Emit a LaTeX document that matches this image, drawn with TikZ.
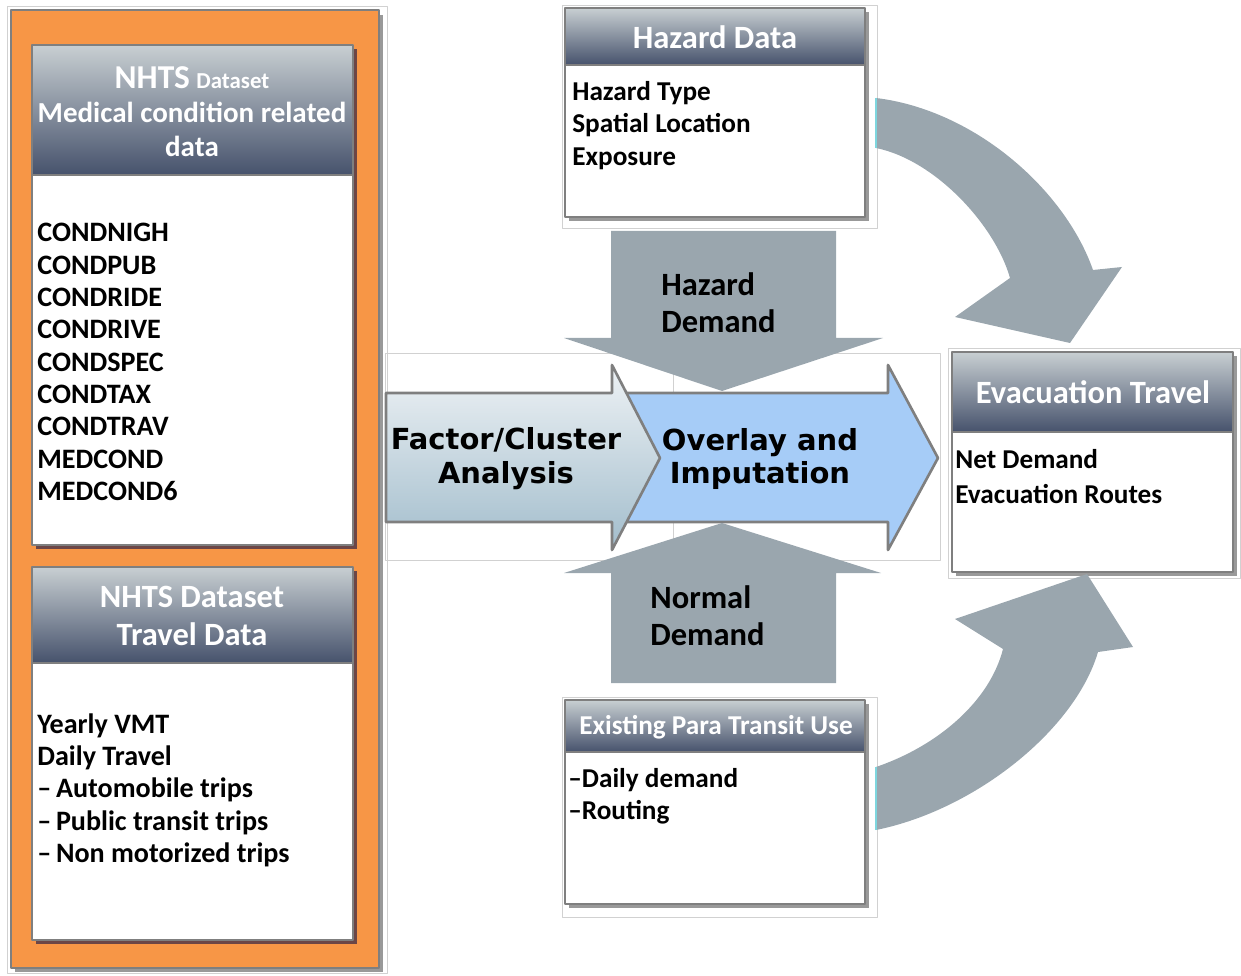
\documentclass[tikz,border=0pt]{standalone}
\usepackage{fontspec}
\setmainfont{Carlito}
\newfontfamily\blockfont{DejaVu Sans}
\definecolor{panelorange}{HTML}{F79646}
\definecolor{framegray}{HTML}{7F7F7F}
\definecolor{hdtop}{HTML}{C8CFD2}
\definecolor{hdbot}{HTML}{46526C}
\definecolor{arrowgray}{HTML}{9AA6AE}
\definecolor{overlayblue}{HTML}{A6CCF7}
\definecolor{factortop}{HTML}{EEF2F5}
\definecolor{factorbot}{HTML}{A2BDCC}
\definecolor{linkcyan}{HTML}{7ED6DE}
\definecolor{darkshade}{HTML}{4A3346}
\begin{document}
\begin{tikzpicture}[x=0.02cm,y=-0.02cm,line join=round,
	frame/.style={draw=framegray,line width=1.5pt},
	header/.style={frame,top color=hdtop,bottom color=hdbot},
	body/.style={frame,fill=white},
	shade/.style={fill=black,opacity=0.4},
	ghost/.style={draw=black!18,line width=0.5pt},
	title/.style={text=white,align=center,inner sep=0pt},
	items/.style={align=left,anchor=north west,inner sep=0pt},
	block/.style={fill=arrowgray},
	tag/.style={align=left,anchor=west,inner sep=0pt,font=\bfseries\fontsize{18.5}{21}\selectfont},
	flow/.style={align=center,inner sep=0pt,font=\blockfont\bfseries\fontsize{16.5}{19.3}\selectfont}]
	\useasboundingbox (0,0) rectangle (1241,976);
	%========orange panel with the two NHTS boxes
	\draw[ghost] (7,6) rectangle (387,973);
	\fill[shade] (15,15) rectangle (383,972);
	\draw[frame,fill=panelorange] (11,10) rectangle (379,968);
	\fill[darkshade,opacity=0.8] (36,49) rectangle (357,549);
	\draw[body] (32,175) rectangle (353,545);
	\draw[header] (32,45) rectangle (353,175);
	\node[title,font=\bfseries\fontsize{16.5}{19.3}\selectfont] (medtitle) at (192,112)
	{{\fontsize{19}{19.3}\selectfont NHTS} {\fontsize{13}{19.3}\selectfont Dataset}\\Medical condition related\\data};
	\node[items,font=\bfseries\fontsize{16}{18.4}\selectfont] (meditems) at (37,223)
	{CONDNIGH\\CONDPUB\\CONDRIDE\\CONDRIVE\\CONDSPEC\\CONDTAX\\CONDTRAV\\MEDCOND\\MEDCOND6};
	\fill[darkshade,opacity=0.8] (36,571) rectangle (357,944);
	\draw[body] (32,663) rectangle (353,940);
	\draw[header] (32,567) rectangle (353,663);
	\node[title,font=\bfseries\fontsize{18.5}{21.5}\selectfont] (tvltitle) at (192,616)
	{NHTS Dataset\\Travel Data};
	\node[items,font=\bfseries\fontsize{16}{18.4}\selectfont] (tvlitems) at (37,713)
	{Yearly VMT\\Daily Travel\\\textendash\,Automobile trips\\\textendash\,Public transit trips\\\textendash\,Non motorized trips};
	%========middle arrows
	\draw[ghost] (385,353) rectangle (673,560) (673,353) rectangle (940,560);
	\path[fill=overlayblue] (614,393) -- (888,393) -- (888,365) -- (938,458) -- (888,550) -- (888,522) -- (614,522) -- cycle;
	\draw[frame] (614,393) -- (888,393) -- (888,365) -- (938,458) -- (888,550) -- (888,522) -- (614,522);
	\draw[frame,top color=factortop,bottom color=factorbot]
	(386,393) -- (612,393) -- (612,365) -- (660,458) -- (612,550) -- (612,522) -- (386,522) -- cycle;
	\node[flow] (factor) at (506,459) {Factor/Cluster\\Analysis};
	\node[flow] (overlay) at (760,459) {Overlay and\\Imputation};
	\fill[block] (611,231) -- (836,231) -- (836,338) -- (883,338) -- (722,391) -- (564,338) -- (611,338) -- cycle;
	\fill[block] (611,683) -- (836,683) -- (836,573) -- (881,573) -- (722,523) -- (564,573) -- (611,573) -- cycle;
	\node[tag] (hzddem) at (661,303) {Hazard\\Demand};
	\node[tag] (nrmdem) at (650,616) {Normal\\Demand};
	%========hazard, para transit and evacuation boxes
	\draw[ghost] (562,5) rectangle (877,228);
	\fill[shade] (569,12) rectangle (869,221);
	\draw[body] (565,65) rectangle (865,217);
	\draw[header] (565,8) rectangle (865,65);
	\node[title,font=\bfseries\fontsize{18.5}{21}\selectfont] (hzdtitle) at (715,37) {Hazard Data};
	\node[items,font=\bfseries\fontsize{15.5}{18.4}\selectfont] (hzditems) at (572,81)
	{Hazard Type\\Spatial Location\\Exposure};
	\draw[ghost] (562,697) rectangle (877,917);
	\fill[shade] (569,704) rectangle (869,908);
	\draw[body] (565,752) rectangle (865,904);
	\draw[header] (565,700) rectangle (865,752);
	\node[title,font=\bfseries\fontsize{15.5}{18}\selectfont] (ptrtitle) at (716,727) {Existing Para Transit Use};
	\node[items,font=\bfseries\fontsize{15.5}{18.4}\selectfont] (ptritems) at (568,768)
	{\textendash Daily demand\\\textendash Routing};
	\draw[ghost] (948,348) rectangle (1240,578);
	\fill[shade] (956,356) rectangle (1237,576);
	\draw[body] (952,432) rectangle (1233,572);
	\draw[header] (952,352) rectangle (1233,432);
	\node[title,font=\bfseries\fontsize{18.5}{21}\selectfont] (evctitle) at (1093,392) {Evacuation Travel};
	\node[items,font=\bfseries\fontsize{15.5}{19.8}\selectfont] (evcitems) at (955,449)
	{Net Demand\\Evacuation Routes};
	%========curved arrows into the evacuation box
	\fill[block] (876,98) .. controls (975,110) and (1065,190) .. (1093,270)
	-- (1122,267) -- (1070,343) -- (955,317) -- (1010,278)
	.. controls (995,225) and (935,160) .. (876,148) -- cycle;
	\fill[block] (876,830) .. controls (975,810) and (1075,730) .. (1098,652)
	-- (1133,647) -- (1087,574) -- (955,619) -- (1003,649)
	.. controls (990,700) and (940,745) .. (876,767) -- cycle;
	\draw[linkcyan,line width=1.2pt] (876,98) -- (876,148) (876,767) -- (876,830);
\end{tikzpicture}
\end{document}
